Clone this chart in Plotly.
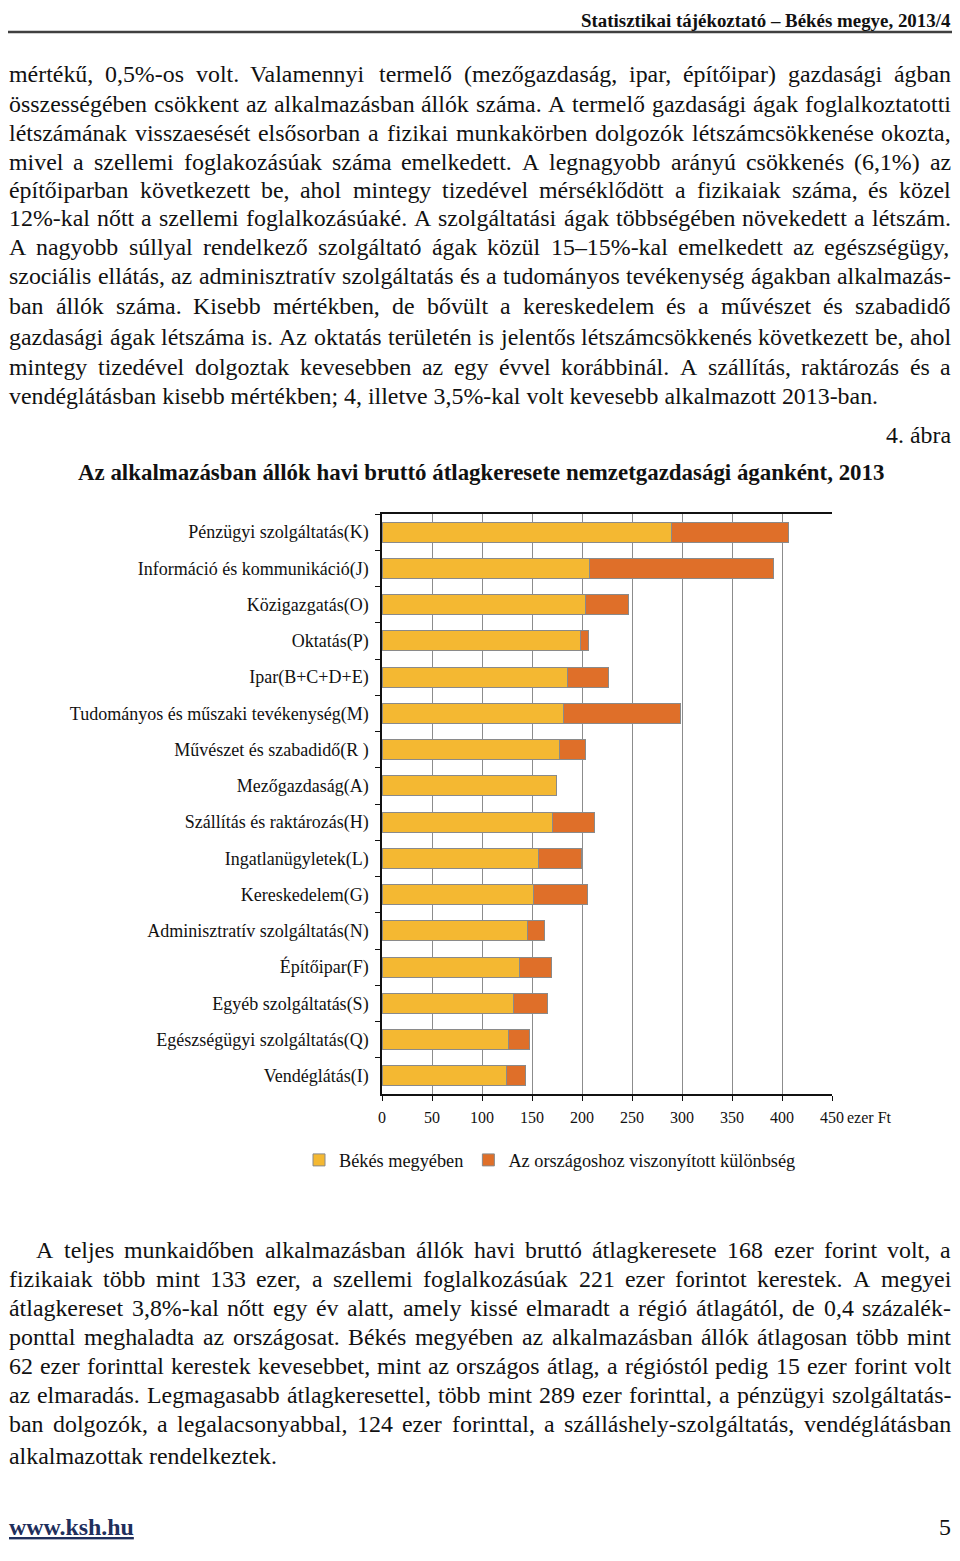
import unicodedata
import plotly.graph_objects as go

# ---------------- data ----------------
categories = [
    "Pénzügyi szolgáltatás(K)",
    "Információ és kommunikáció(J)",
    "Közigazgatás(O)",
    "Oktatás(P)",
    "Ipar(B+C+D+E)",
    "Tudományos és műszaki tevékenység(M)",
    "Művészet és szabadidő(R )",
    "Mezőgazdaság(A)",
    "Szállítás és raktározás(H)",
    "Ingatlanügyletek(L)",
    "Kereskedelem(G)",
    "Adminisztratív szolgáltatás(N)",
    "Építőipar(F)",
    "Egyéb szolgáltatás(S)",
    "Egészségügyi szolgáltatás(Q)",
    "Vendéglátás(I)",
]
bekes_values = [289, 207, 203, 198, 185, 181, 177, 174, 170, 156, 151, 145, 137, 131, 126, 124]
diff_values = [117, 184, 43, 8, 41, 117, 26, 0, 42, 43, 54, 17, 32, 34, 21, 19]
series_names = ["Békés megyében", "Az országoshoz viszonyított különbség"]
x_ticks = [0, 50, 100, 150, 200, 250, 300, 350, 400, 450]
x_unit = "ezer Ft"

header_text = "Statisztikai tájékoztató – Békés megye, 2013/4"
figure_no = "4. ábra"
chart_title = "Az alkalmazásban állók havi bruttó átlagkeresete nemzetgazdasági áganként, 2013"
footer_link = "www.ksh.hu"
page_no = "5"

para1 = [
    "mértékű, 0,5%-os volt. Valamennyi termelő (mezőgazdaság, ipar, építőipar) gazdasági ágban",
    "összességében csökkent az alkalmazásban állók száma. A termelő gazdasági ágak foglalkoztatotti",
    "létszámának visszaesését elsősorban a fizikai munkakörben dolgozók létszámcsökkenése okozta,",
    "mivel a szellemi foglakozásúak száma emelkedett. A legnagyobb arányú csökkenés (6,1%) az",
    "építőiparban következett be, ahol mintegy tizedével mérséklődött a fizikaiak száma, és közel",
    "12%-kal nőtt a szellemi foglalkozásúaké. A szolgáltatási ágak többségében növekedett a létszám.",
    "A nagyobb súllyal rendelkező szolgáltató ágak közül 15–15%-kal emelkedett az egészségügy,",
    "szociális ellátás, az adminisztratív szolgáltatás és a tudományos tevékenység ágakban alkalmazás-",
    "ban állók száma. Kisebb mértékben, de bővült a kereskedelem és a művészet és szabadidő",
    "gazdasági ágak létszáma is. Az oktatás területén is jelentős létszámcsökkenés következett be, ahol",
    "mintegy tizedével dolgoztak kevesebben az egy évvel korábbinál. A szállítás, raktározás és a",
    "vendéglátásban kisebb mértékben; 4, illetve 3,5%-kal volt kevesebb alkalmazott 2013-ban.",
]
para2 = [
    "A teljes munkaidőben alkalmazásban állók havi bruttó átlagkeresete 168 ezer forint volt, a",
    "fizikaiak több mint 133 ezer, a szellemi foglalkozásúak 221 ezer forintot kerestek. A megyei",
    "átlagkereset 3,8%-kal nőtt egy év alatt, amely kissé elmaradt a régió átlagától, de 0,4 százalék-",
    "ponttal meghaladta az országosat. Békés megyében az alkalmazásban állók átlagosan több mint",
    "62 ezer forinttal kerestek kevesebbet, mint az országos átlag, a régióstól pedig 15 ezer forint volt",
    "az elmaradás. Legmagasabb átlagkeresettel, több mint 289 ezer forinttal, a pénzügyi szolgáltatás-",
    "ban dolgozók, a legalacsonyabbal, 124 ezer forinttal, a szálláshely-szolgáltatás, vendéglátásban",
    "alkalmazottak rendelkeztek.",
]

# ---------------- layout helpers ----------------
# positions below are page pixels; the page body adds an 8px margin around the figure
OFF = 8
W, H = 960 - 2 * OFF, 1540
L, R, T, B = 382 - OFF, 832 - OFF, 514 - OFF, 1094 - OFF
PW, PH = R - L, B - T
TEXT_L, TEXT_R = 9, 951
FONT = "Liberation Serif, Times New Roman, serif"
YELLOW = "#F4B832"
ORANGE = "#DF6F29"
OUTLINE = "#8a8a8a"

TW = {" ": 250, "!": 333, "%": 833, "(": 333, ")": 333, "+": 564, ",": 250, "-": 333,
      ".": 250, "/": 278, ":": 278, ";": 278, "–": 500,
      "A": 722, "B": 667, "C": 667, "D": 722, "E": 611, "F": 556, "G": 722, "H": 722,
      "I": 333, "J": 389, "K": 722, "L": 611, "M": 889, "N": 722, "O": 722, "P": 556,
      "Q": 722, "R": 667, "S": 556, "T": 611, "U": 722, "V": 722, "W": 944, "X": 722,
      "Y": 722, "Z": 611,
      "a": 444, "b": 500, "c": 444, "d": 500, "e": 444, "f": 333, "g": 500, "h": 500,
      "i": 278, "j": 278, "k": 500, "l": 278, "m": 778, "n": 500, "o": 500, "p": 500,
      "q": 500, "r": 333, "s": 389, "t": 278, "u": 500, "v": 500, "w": 722, "x": 500,
      "y": 500, "z": 444}


def em(text, bold=False):
    tot = 0
    for ch in text:
        base = unicodedata.normalize("NFD", ch)[0]
        tot += TW.get(base, 500)
    return tot / 1000 * (1.06 if bold else 1.0)


def px_x(px):
    return (px - OFF - L) / PW


def px_y(py):
    return (B - (py - OFF)) / PH


annotations = []


def add_text(text, x, y, size, xanchor="left", bold=False, color="#111111"):
    t = f"<b>{text}</b>" if bold else text
    annotations.append(dict(text=t, x=px_x(x), y=px_y(y), xref="paper", yref="paper",
                            xanchor=xanchor, yanchor="middle", showarrow=False,
                            borderpad=0, borderwidth=0,
                            font=dict(family=FONT, size=size, color=color)))


def add_line(line, y, x0, x1, size, justify=True):
    words = line.split()
    if not justify or len(words) == 1:
        add_text(line, x0, y, size)
        return
    widths = [em(w) * size for w in words]
    gap = (x1 - x0 - sum(widths)) / (len(words) - 1)
    gap = max(gap, 0.2 * size)
    x = x0
    for w, wd in zip(words, widths):
        add_text(w, x, y, size)
        x += wd + gap


# body font size fitted to the last (non-justified) line width
body_size = round(870 / em(para1[-1]), 1)

p1_y = [74, 104, 133, 162, 190, 218, 247, 276, 306, 337, 367, 396]
for i, (line, y) in enumerate(zip(para1, p1_y)):
    add_line(line, y, TEXT_L, TEXT_R, body_size, justify=(i < len(para1) - 1))

p2_y = [1250, 1279, 1308, 1337, 1366, 1395, 1424, 1456]
for i, (line, y) in enumerate(zip(para2, p2_y)):
    x0 = 36 if i == 0 else TEXT_L
    add_line(line, y, x0, TEXT_R, body_size, justify=(i < len(para2) - 1))

header_size = round(min(20, 375 / em(header_text, bold=True)), 1)
add_text(header_text, TEXT_R, 21, header_size, xanchor="right", bold=True)
add_text(figure_no, TEXT_R, 435, body_size, xanchor="right")
title_size = round(802 / em(chart_title, bold=True), 1)
add_text(chart_title, 481, 473, title_size, xanchor="center", bold=True)
add_text(x_unit, 847, 1117, 16)
add_text(f"<u>{footer_link}</u>", TEXT_L, 1527, body_size, bold=True, color="#1F2F5C")
add_text(page_no, TEXT_R, 1527, body_size, xanchor="right")

cat_size = round(300 / em(max(categories, key=em)), 1)
legend_size = round(287 / em(series_names[1]), 1)

# ---------------- figure ----------------
fig = go.Figure()
fig.add_trace(go.Bar(y=categories, x=bekes_values, orientation="h", name=series_names[0],
                     marker=dict(color=YELLOW, line=dict(color=OUTLINE, width=1))))
fig.add_trace(go.Bar(y=categories, x=diff_values, orientation="h", name=series_names[1],
                     marker=dict(color=ORANGE, line=dict(color=OUTLINE, width=1))))

fig.update_layout(
    width=W, height=H,
    margin=dict(l=L, r=W - R, t=T, b=H - B, pad=0),
    paper_bgcolor="white", plot_bgcolor="white",
    barmode="stack", bargap=0.45,
    font=dict(family=FONT, size=16, color="#111111"),
    showlegend=True,
    legend=dict(orientation="h", x=px_x(299), y=px_y(1160), xanchor="left", yanchor="middle",
                xref="paper", yref="paper",
                font=dict(family=FONT, size=legend_size, color="#111111"),
                bgcolor="rgba(0,0,0,0)", traceorder="normal",
                itemwidth=30, tracegroupgap=0),
    annotations=annotations,
    shapes=[dict(type="line", xref="paper", yref="paper", x0=px_x(TEXT_L - 1), x1=px_x(TEXT_R + 1),
                 y0=px_y(32), y1=px_y(32), line=dict(color="#404040", width=2.5))],
)
fig.update_xaxes(range=[0, 450], tickvals=x_ticks, ticktext=[str(v) for v in x_ticks],
                 showgrid=True, gridcolor="#8c8c8c", gridwidth=1, zeroline=False,
                 showline=True, linecolor="#111111", linewidth=1.5, mirror=True,
                 ticks="outside", ticklen=5, tickcolor="#111111", tickwidth=1.3,
                 ticklabelstandoff=3,
                 tickfont=dict(family=FONT, size=16, color="#111111"))
fig.update_yaxes(type="category", categoryorder="array", categoryarray=categories,
                 autorange="reversed", showgrid=False, zeroline=False,
                 showline=True, linecolor="#111111", linewidth=1.5,
                 ticks="outside", ticklen=5, tickcolor="#111111", tickwidth=1.3,
                 tickson="boundaries", ticklabelstandoff=8,
                 tickfont=dict(family=FONT, size=cat_size, color="#111111"))

fig.write_html("out.html")
